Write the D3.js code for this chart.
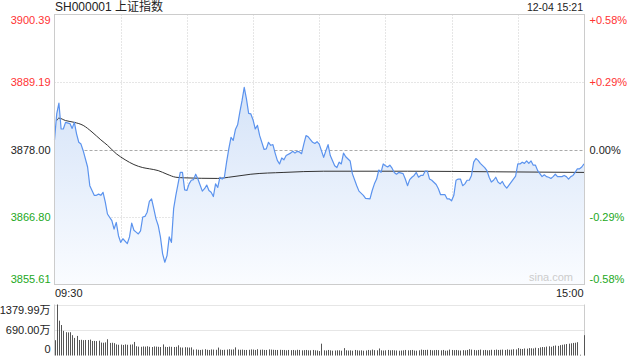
<!DOCTYPE html>
<html>
  <head>
    <meta charset="utf-8" />
    <title>SH000001 上证指数</title>
    <script src="https://d3js.org/d3.v7.min.js"></script>
    <style>
      body { margin: 0; background: #fff; }
      svg text { font-family: "Liberation Sans", Arial, "Noto Sans CJK SC", sans-serif; }
    </style>
  </head>
  <body>
    <svg width="640" height="360" id="chart"></svg>

    <script>
      // ---- data ----
      var title = "SH000001 上证指数";
      var stamp = "12-04 15:21";
      var prevClose = 3878.00;

      // minute index (0 = 09:30, 120 = 11:30/13:00, 240 = 15:00) and price
      var priceMin = [0,1,2,3,4,5,7,8,9,10,11,12,13,15,16,18,19,20,21,22,23,24,26,27,28,29,30,31,33,34,35,36,37,38,39,40,41,42,43,44,45,46,47,48,49,50,51,52,53,54,55,57,58,59,60,61,62,63,64,65,67,68,69,70,71,72,73,74,75,76,77,78,79,80,81,82,83,84,85,86,87,88,89,90,91,92,93,95,96,97,98,99,100,101,102,103,104,105,107,108,109,110,111,112,113,114,115,117,118,119,120,121,122,123,124,125,127,128,129,130,131,132,134,135,137,138,140,141,143,144,145,146,147,148,149,150,151,152,153,154,155,156,158,159,160,161,162,163,164,165,166,167,168,169,170,171,173,174,175,176,177,178,179,180,181,182,183,184,185,186,187,188,189,190,191,192,193,195,196,197,198,199,200,201,202,203,204,205,206,207,209,210,211,212,213,214,215,216,217,218,219,220,221,222,223,224,225,226,227,228,230,231,232,233,234,235,236,237,238,239,240];
      var priceVal = [3879.6,3883.9,3885.7,3881.4,3881.4,3882.5,3882.3,3881.5,3882.5,3880.6,3879.2,3878.9,3877.8,3875.1,3872.0,3870.4,3870.4,3870.6,3870.4,3870.9,3869.3,3867.3,3866.2,3864.8,3865.9,3863.7,3862.6,3863.2,3862.4,3863.5,3865.8,3864.6,3864.3,3864.0,3864.5,3866.8,3866.9,3867.6,3869.4,3869.8,3868.2,3866.5,3865.4,3863.5,3860.7,3859.3,3860.4,3863.5,3862.6,3868.2,3870.4,3874.2,3874.2,3871.3,3871.2,3872.3,3872.9,3873.0,3873.9,3873.1,3871.1,3871.5,3872.1,3871.2,3870.9,3870.2,3872.3,3871.7,3873.4,3873.1,3873.4,3875.9,3878.1,3880.0,3879.5,3881.3,3882.1,3884.2,3886.1,3888.3,3886.4,3884.0,3883.9,3882.9,3881.4,3882.0,3880.3,3878.0,3878.1,3879.2,3878.7,3878.8,3877.4,3876.2,3875.6,3876.6,3876.3,3877.0,3877.4,3877.7,3877.4,3877.7,3877.6,3877.3,3878.9,3880.3,3880.1,3879.2,3879.0,3879.3,3878.9,3877.8,3876.7,3877.8,3878.8,3877.0,3875.3,3875.0,3875.9,3875.6,3877.4,3876.8,3876.1,3874.0,3872.0,3871.1,3870.4,3869.9,3869.8,3871.2,3872.3,3873.1,3874.6,3874.2,3875.6,3875.3,3875.1,3875.4,3874.9,3874.2,3873.9,3874.2,3874.0,3873.1,3872.0,3873.0,3873.4,3873.7,3874.2,3873.4,3873.7,3873.7,3874.4,3874.4,3873.1,3872.9,3872.2,3871.5,3870.5,3870.5,3870.5,3869.8,3869.8,3869.5,3870.4,3872.9,3873.1,3873.1,3872.0,3872.3,3872.9,3872.9,3873.7,3875.9,3876.5,3876.2,3875.7,3875.0,3874.5,3873.4,3872.6,3872.9,3873.4,3872.6,3872.3,3872.7,3872.0,3871.6,3872.1,3872.6,3873.6,3875.6,3875.6,3875.9,3875.7,3876.1,3875.7,3876.1,3875.4,3875.4,3874.5,3874.0,3873.5,3873.8,3873.5,3873.4,3873.2,3873.5,3873.9,3873.5,3873.5,3873.7,3873.5,3873.1,3873.5,3873.7,3874.2,3874.8,3874.8,3875.1,3875.6];

      // average price line
      var avgMin = [1,2,5,9,13,17,21,24,28,32,36,40,43,47,51,55,59,74,79,85,89,104,122,160,200,240];
      var avgVal = [3882.8,3883.2,3882.8,3882.5,3882.0,3880.9,3879.6,3878.7,3877.3,3876.3,3875.5,3875.0,3874.8,3874.5,3873.9,3873.4,3873.3,3873.2,3873.4,3873.7,3873.9,3874.2,3874.4,3874.4,3874.3,3874.2];

      // volume per minute, in 万 (241 bars)
      var volume = [
        414,1380,943,825,668,630,625,630,550,476,530,420,425,415,420,420,430,393,395,390,400,350,345,355,440,340,345,335,300,290,295,285,300,290,295,300,367,250,240,235,245,240,250,235,230,245,240,235,230,300,
        235,230,240,235,230,235,276,220,215,225,220,215,220,160,165,155,150,160,170,155,150,165,160,155,215,160,150,155,160,170,160,165,220,160,155,160,150,150,155,165,160,150,170,155,160,150,150,165,160,155,
        150,150,155,150,150,140,150,145,150,140,155,150,140,145,150,140,140,150,140,135,120,
        320,140,135,150,140,130,135,140,140,130,
        200,140,135,140,130,150,140,135,140,130,
        135,150,140,160,145,140,190,140,135,140,
        150,140,145,140,135,130,135,140,150,140,
        145,150,135,130,140,160,150,150,155,150,
        140,145,150,145,140,150,130,135,160,150,
        145,150,140,135,145,140,150,170,160,150,
        140,150,160,145,150,140,145,155,150,160,
        150,155,160,150,165,155,160,170,165,200,
        180,175,190,185,200,195,190,210,200,220,
        230,225,240,250,235,260,270,260,280,290,
        300,310,320,330,340,345,360,20,0,550
      ];

      var priceTicks = [3900.39, 3889.19, 3878.00, 3866.80, 3855.61];
      var pctTicks = ["+0.58%", "+0.29%", "0.00%", "-0.29%", "-0.58%"];
      var volTicks = [1379.99, 690.00, 0];
      var volTickLabels = ["1379.99万", "690.00万", "0"];
      var timeLabels = ["09:30", "15:00"];

      // ---- layout ----
      var L = 54.5, R = 584.5, T = 14.5, B = 284.5;
      var VT = 304.5, VB = 355.5;
      var red = "#f33", green = "#22a822", dark = "#222";

      var svg = d3.select("#chart");

      var x = d3.scaleLinear().domain([0, 240]).range([L, R - 0.5]);
      var y = d3.scaleLinear().domain([3855.61, 3900.39]).range([B, T]);
      var yv = d3.scaleLinear().domain([0, 1379.99]).range([VB, VT]);

      function tickColor(v) {
        if (Math.abs(v - prevClose) < 0.001) return dark;
        return v > prevClose ? red : green;
      }

      // gradient for the area
      var grad = svg.append("defs").append("linearGradient")
        .attr("id", "fillGrad")
        .attr("gradientUnits", "userSpaceOnUse")
        .attr("x1", 0).attr("y1", 80).attr("x2", 0).attr("y2", B);
      grad.append("stop").attr("offset", 0).attr("stop-color", "#d3e2f8");
      grad.append("stop").attr("offset", 1).attr("stop-color", "#fafcff");

      // grid lines, main chart
      svg.selectAll(".vgrid")
        .data(d3.range(30, 240, 30))
        .join("line")
        .attr("x1", function(d) { return Math.round(x(d)) + 0.5; })
        .attr("x2", function(d) { return Math.round(x(d)) + 0.5; })
        .attr("y1", T).attr("y2", B)
        .attr("stroke", "#ccc")
        .attr("stroke-dasharray", "1,2");

      svg.selectAll(".hgrid")
        .data(priceTicks.slice(1, 4))
        .join("line")
        .attr("x1", L).attr("x2", R)
        .attr("y1", function(d) { return Math.round(y(d)) + 0.5; })
        .attr("y2", function(d) { return Math.round(y(d)) + 0.5; })
        .attr("stroke", function(d) { return d == prevClose ? "#aaa" : "#ccc"; })
        .attr("stroke-dasharray", function(d) { return d == prevClose ? "3,2" : "1,2"; });

      // price area + lines
      var pts = priceMin.map(function(m, i) { return [m, priceVal[i]]; });

      svg.append("path")
        .datum(pts)
        .attr("fill", "url(#fillGrad)")
        .attr("d", d3.area()
          .x(function(d) { return x(d[0]); })
          .y0(B)
          .y1(function(d) { return y(d[1]); }));

      svg.append("path")
        .datum(avgMin.map(function(m, i) { return [m, avgVal[i]]; }))
        .attr("fill", "none")
        .attr("stroke", "#333")
        .attr("stroke-width", 1)
        .attr("d", d3.line()
          .curve(d3.curveMonotoneX)
          .x(function(d) { return x(d[0]); })
          .y(function(d) { return y(d[1]); }));

      svg.append("path")
        .datum(pts)
        .attr("fill", "none")
        .attr("stroke", "#5b93ee")
        .attr("stroke-width", 1.2)
        .attr("stroke-linejoin", "round")
        .attr("d", d3.line()
          .x(function(d) { return x(d[0]); })
          .y(function(d) { return y(d[1]); }));

      // frame
      svg.append("rect")
        .attr("x", L).attr("y", T)
        .attr("width", R - L).attr("height", B - T)
        .attr("fill", "none")
        .attr("stroke", "#ccc");

      // left axis (prices)
      var leftAxis = svg.append("g")
        .attr("transform", "translate(" + L + ",0)")
        .call(d3.axisLeft(y).tickValues(priceTicks).tickSize(0).tickPadding(4)
          .tickFormat(d3.format(".2f")));
      leftAxis.select(".domain").remove();
      leftAxis.selectAll("text")
        .attr("font-size", 11)
        .attr("fill", function(d) { return tickColor(d); })
        .attr("dy", function(d, i) { return i == 0 ? "0.86em" : (i == priceTicks.length - 1 ? "-0.22em" : "0.32em"); });

      // right axis (percent)
      var rightAxis = svg.append("g")
        .attr("transform", "translate(" + R + ",0)")
        .call(d3.axisRight(y).tickValues(priceTicks).tickSize(0).tickPadding(5)
          .tickFormat(function(d, i) { return pctTicks[i]; }));
      rightAxis.select(".domain").remove();
      rightAxis.selectAll("text")
        .attr("font-size", 11)
        .attr("fill", function(d) { return tickColor(d); })
        .attr("dy", function(d, i) { return i == 0 ? "0.86em" : (i == priceTicks.length - 1 ? "-0.22em" : "0.32em"); });

      // header
      svg.append("text")
        .attr("x", 55).attr("y", 11)
        .attr("font-size", 12)
        .attr("fill", dark)
        .text(title);
      svg.append("text")
        .attr("x", 583).attr("y", 11)
        .attr("font-size", 10.5)
        .attr("text-anchor", "end")
        .attr("fill", dark)
        .text(stamp);

      // watermark
      svg.append("text")
        .attr("x", 573).attr("y", 281)
        .attr("font-size", 11)
        .attr("text-anchor", "end")
        .attr("fill", "#ccc")
        .text("sina.com");

      // time labels
      svg.append("text")
        .attr("x", 55).attr("y", 297)
        .attr("font-size", 11)
        .attr("fill", dark)
        .text(timeLabels[0]);
      svg.append("text")
        .attr("x", 583.5).attr("y", 297)
        .attr("font-size", 11)
        .attr("text-anchor", "end")
        .attr("fill", dark)
        .text(timeLabels[1]);

      // volume chart
      svg.selectAll(".vgridline")
        .data(volTicks.slice(0, 2))
        .join("line")
        .attr("x1", L).attr("x2", R)
        .attr("y1", function(d) { return Math.round(yv(d)) + 0.5; })
        .attr("y2", function(d) { return Math.round(yv(d)) + 0.5; })
        .attr("stroke", "#ccc")
        .attr("stroke-dasharray", "1,1");

      [L, R].forEach(function(xx) {
        svg.append("line")
          .attr("x1", xx).attr("x2", xx)
          .attr("y1", VT).attr("y2", VB)
          .attr("stroke", "#ccc");
      });

      svg.selectAll(".vbar")
        .data(volume)
        .join("rect")
        .attr("x", function(d, i) { return Math.round(x(i)); })
        .attr("y", function(d) { return yv(d); })
        .attr("width", 1)
        .attr("height", function(d) { return VB - yv(d); })
        .attr("fill", "#555");

      var volAxis = svg.append("g")
        .attr("transform", "translate(" + L + ",0)")
        .call(d3.axisLeft(yv).tickValues(volTicks).tickSize(0).tickPadding(4)
          .tickFormat(function(d, i) { return volTickLabels[i]; }));
      volAxis.select(".domain").remove();
      volAxis.selectAll("text")
        .attr("font-size", 11)
        .attr("fill", dark)
        .attr("dy", function(d, i) { return i == 0 ? "0.86em" : (i == volTicks.length - 1 ? "-0.3em" : "0.32em"); });
    </script>
  </body>
</html>
